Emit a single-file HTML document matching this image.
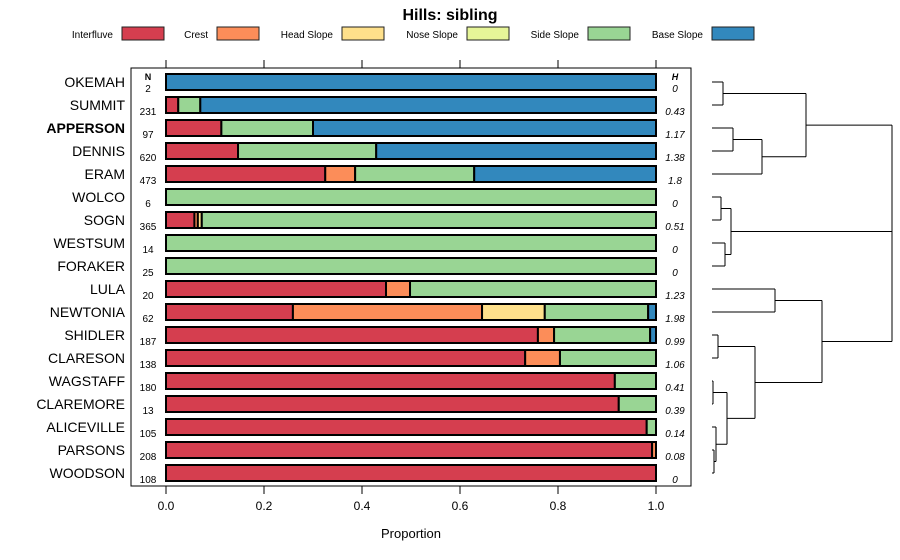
<!DOCTYPE html>
<html><head><meta charset="utf-8"><style>
body{margin:0;background:#fff;}
svg{font-family:"Liberation Sans",sans-serif;display:block;}
</style></head><body>
<svg id="chart" width="900" height="560"></svg>
<script>
const categories=["OKEMAH","SUMMIT","APPERSON","DENNIS","ERAM","WOLCO","SOGN","WESTSUM","FORAKER","LULA","NEWTONIA","SHIDLER","CLARESON","WAGSTAFF","CLAREMORE","ALICEVILLE","PARSONS","WOODSON"];
const nValues=[2,231,97,620,473,6,365,14,25,20,62,187,138,180,13,105,208,108];
const hValues=["0","0.43","1.17","1.38","1.8","0","0.51","0","0","1.23","1.98","0.99","1.06","0.41","0.39","0.14","0.08","0"];
const seriesNames=["Interfluve","Crest","Head Slope","Nose Slope","Side Slope","Base Slope"];
const interfluve=[0,0.025,0.113,0.147,0.325,0,0.058,0,0,0.449,0.259,0.759,0.733,0.916,0.924,0.981,0.992,1];
const crest=[0,0,0,0,0.061,0,0.007,0,0,0.049,0.386,0.033,0.071,0,0,0,0.008,0];
const headSlope=[0,0,0,0,0,0,0.008,0,0,0,0.128,0,0,0,0,0,0,0];
const noseSlope=[0,0,0,0,0,0,0,0,0,0,0,0,0,0,0,0,0,0];
const sideSlope=[0,0.045,0.187,0.282,0.243,1,0.927,1,1,0.502,0.211,0.196,0.196,0.084,0.076,0.019,0,0];
const baseSlope=[1,0.93,0.7,0.571,0.371,0,0,0,0,0,0.016,0.012,0,0,0,0,0,0];
const xTicks=[0,0.2,0.4,0.6,0.8,1.0];
const colors=["#D53E4F","#FC8D59","#FEE08B","#E6F598","#99D594","#3288BD"];
const series=[interfluve,crest,headSlope,noseSlope,sideSlope,baseSlope];
const NS="http://www.w3.org/2000/svg";
const svg=document.getElementById("chart");
function mk(t,a,p){const e=document.createElementNS(NS,t);for(const k in a)e.setAttribute(k,a[k]);(p||svg).appendChild(e);return e;}
const xS=v=>166+v*490;
const yS=i=>82+i*23;
const title=mk("text",{x:450,y:20,"text-anchor":"middle","font-size":16,"font-weight":"bold"});title.textContent="Hills: sibling";


const legX=[113,208,333,458,579,703];
seriesNames.forEach((s,i)=>{
 const g=mk("g",{});
 
 
 const tx=mk("text",{x:legX[i],y:38,"text-anchor":"end","font-size":10},g);tx.textContent=s;
 mk("rect",{x:legX[i]+9,y:27,width:42,height:13,fill:colors[i],stroke:"#222","stroke-width":1},g);
});
const panel=mk("rect",{x:131,y:68,width:560,height:418,fill:"none",stroke:"#000","stroke-width":1});


xTicks.forEach(v=>{
 const x=xS(v);
 mk("line",{x1:x,y1:60,x2:x,y2:68,stroke:"#000"});
 mk("line",{x1:x,y1:486,x2:x,y2:494,stroke:"#000"});
 const tl=mk("text",{x:x,y:510,"text-anchor":"middle","font-size":12});tl.textContent=v.toFixed(1);
 
 
});
const xt=mk("text",{x:411,y:538,"text-anchor":"middle","font-size":13});xt.textContent="Proportion";


const th=mk("text",{x:148,y:80,"text-anchor":"middle","font-size":9,"font-weight":"bold"});th.textContent="N";
const th2=mk("text",{x:675,y:80,"text-anchor":"middle","font-size":9,"font-weight":"bold","font-style":"italic"});th2.textContent="H";
categories.forEach((c,i)=>{
 const y=yS(i);
 const lab=mk("text",{x:125,y:y+5,"text-anchor":"end","font-size":14,"font-weight":c==="APPERSON"?"bold":"normal"});lab.textContent=c;
 
 
 const n=mk("text",{x:148,y:y+10,"text-anchor":"middle","font-size":10});n.textContent=nValues[i];
 
 
 const h=mk("text",{x:675,y:y+10,"text-anchor":"middle","font-size":10,"font-style":"italic"});h.textContent=hValues[i];
 
 
 let cum=0;
 series.forEach((s,k)=>{
  const v=s[i]; if(v<=0) return;
  const r=mk("rect",{x:xS(cum),y:y-8,width:xS(cum+v)-xS(cum),height:16,fill:colors[k],stroke:"#000","stroke-width":2});
  
  
  cum+=v;
 });
});
const dendro=mk("g",{stroke:"#000","stroke-width":1,fill:"none"});


const L=712;
function seg(x1,y1,x2,y2){mk("line",{x1:x1,y1:y1,x2:x2,y2:y2},dendro);}
function join(a,b,x){seg(a.x,a.y,x,a.y);seg(b.x,b.y,x,b.y);seg(x,a.y,x,b.y);return {x:x,y:(a.y+b.y)/2};}
const leaf=i=>({x:L,y:yS(i)});
const n01=join(leaf(0),leaf(1),723);
const n23=join(leaf(2),leaf(3),733);
const n234=join(n23,leaf(4),762);
const topCluster=join(n01,n234,806);
const n56=join(leaf(5),leaf(6),721);
const n78=join(leaf(7),leaf(8),725);
const midCluster=join(n56,n78,731);
const n910=join(leaf(9),leaf(10),775);
const n1112=join(leaf(11),leaf(12),718);
const n1314=join(leaf(13),leaf(14),713);
const n1617=join(leaf(16),leaf(17),714);
const n15=join(leaf(15),n1617,716);
const nlow=join(n1314,n15,727);
const nlow2=join(n1112,nlow,755);
const botCluster=join(n910,nlow2,822);
const tm=join(topCluster,midCluster,892);
seg(tm.x,tm.y,tm.x,botCluster.y);seg(botCluster.x,botCluster.y,892,botCluster.y);
</script>
</body></html>
